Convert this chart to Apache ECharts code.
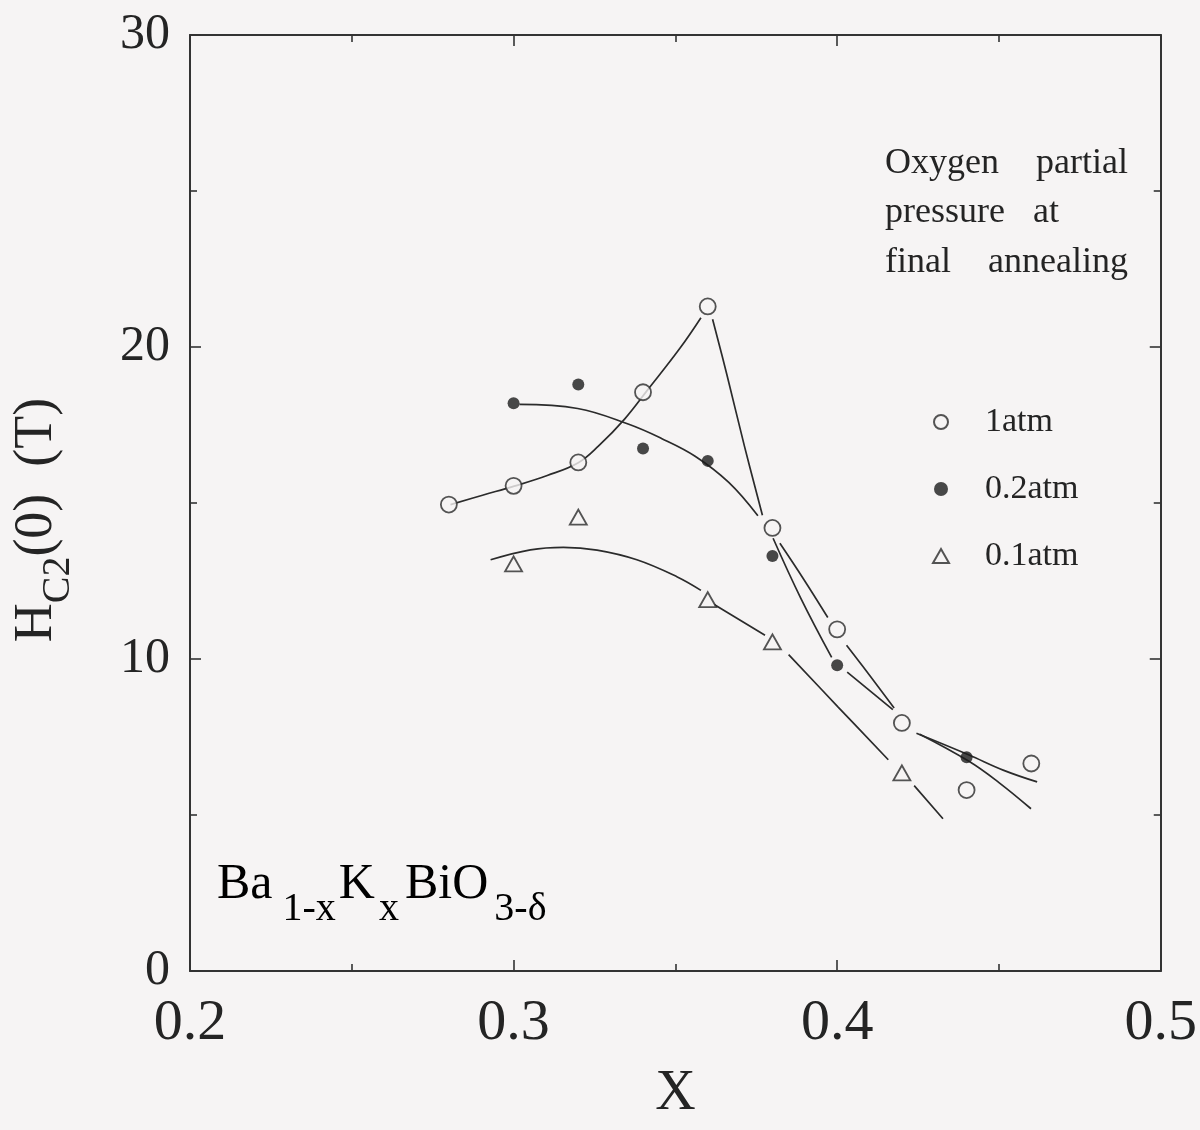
<!DOCTYPE html>
<html>
<head>
<meta charset="utf-8">
<script src="https://cdn.jsdelivr.net/npm/echarts@6/dist/echarts.min.js"></script>
<style>
  html, body { margin: 0; padding: 0; background: #f6f4f4; }
  #chart { width: 1200px; height: 1130px; }
</style>
</head>
<body>
<div id="chart"></div>
<script>
// measured points, Hc2(0) in tesla vs potassium content x
const x1atm = [0.28, 0.30, 0.32, 0.34, 0.36, 0.38, 0.40, 0.42, 0.44, 0.46]
const hc1atm = [14.95, 15.55, 16.3, 18.55, 21.3, 14.2, 10.95, 7.95, 5.8, 6.65]

const x02atm = [0.30, 0.32, 0.34, 0.36, 0.38, 0.40, 0.44]
const hc02atm = [18.2, 18.8, 16.75, 16.35, 13.3, 9.8, 6.85]

const x01atm = [0.30, 0.32, 0.36, 0.38, 0.42]
const hc01atm = [13.05, 14.55, 11.9, 10.55, 6.35]

// guide-to-the-eye curves, null = gap in the drawn line
const fit1atm = [
    [0.2805, 14.95], [0.2904, 15.25], [0.3002, 15.54], [0.3104, 15.88], [0.32, 16.29],
    [0.3262, 16.82], [0.3343, 17.69], [0.3413, 18.61], [0.3514, 19.96], [0.3579, 20.94], null,
    [0.3615, 20.89], [0.366, 19.08], [0.3713, 16.84], [0.3769, 14.61], null,
    [0.3823, 13.71], [0.3897, 12.55], [0.3971, 11.33], null,
    [0.4029, 10.44], [0.4103, 9.44], [0.4176, 8.43], null,
    [0.4245, 7.62], [0.4406, 6.93], [0.4515, 6.43], [0.4618, 6.06]
]
const fit02atm = [
    [0.3018, 18.16], [0.3198, 18.03], [0.3354, 17.53], [0.3457, 17.07], [0.3561, 16.5],
    [0.3665, 15.66], [0.3755, 14.59], null,
    [0.3802, 13.87], [0.3887, 11.96], [0.3983, 10.05], null,
    [0.4031, 9.58], [0.4172, 8.38], null,
    [0.4255, 7.59], [0.4406, 6.73], [0.45, 6.04], [0.4599, 5.2]
]
const fit01atm = [
    [0.2929, 13.18], [0.3052, 13.5], [0.3154, 13.58], [0.3258, 13.49], [0.3381, 13.18],
    [0.3506, 12.63], [0.3579, 12.2], null,
    [0.362, 11.75], [0.3777, 10.76], null,
    [0.385, 10.14], [0.4003, 8.46], [0.4158, 6.77], null,
    [0.4238, 5.94], [0.4327, 4.88]
]

const legendNames = ['1atm', '0.2atm', '0.1atm']

const SERIF = "'Liberation Serif', 'Times New Roman', serif"
const INK = '#242424'
const PAPER = '#f6f4f4'

const pairs = (xs, ys) => xs.map((x, i) => [x, ys[i]])
const withGaps = pts => pts.map(p => p === null ? ['-', '-'] : p)

const chart = echarts.init(document.getElementById('chart'), null, { renderer: 'canvas' })

const frameAxis = {
    type: 'value',
    axisLine: { show: true, onZero: false, lineStyle: { color: '#333', width: 2 } },
    axisTick: { show: true, inside: true, length: 11, lineStyle: { color: '#333', width: 1.6 } },
    minorTick: { show: true, splitNumber: 2, length: 7, lineStyle: { color: '#333', width: 1.6 } },
    splitLine: { show: false },
    minorSplitLine: { show: false }
}

const fitLine = (pts) => ({
    type: 'line',
    data: withGaps(pts),
    smooth: 0.4,
    symbol: 'none',
    silent: true,
    connectNulls: false,
    z: 1,
    lineStyle: { color: '#2b2b2b', width: 1.7 }
})

const mainTok = { fontFamily: SERIF, fontSize: 50, lineHeight: 50, color: INK, verticalAlign: 'top' }
const subTok = (left, right) => ({
    fontFamily: SERIF, fontSize: 40, lineHeight: 40, color: INK, verticalAlign: 'top',
    padding: [29, right, 0, left]
})

chart.setOption({
    backgroundColor: PAPER,
    animation: false,
    grid: { left: 190, right: 38, top: 35, bottom: 159 },
    xAxis: [
        {
            ...frameAxis,
            position: 'bottom',
            min: 0.2, max: 0.5, interval: 0.1,
            name: 'X',
            nameLocation: 'middle',
            nameGap: 95,
            nameTextStyle: { fontFamily: SERIF, fontSize: 56, color: INK },
            axisLabel: {
                color: INK, fontFamily: SERIF, fontSize: 58, margin: 24,
                formatter: v => v.toFixed(1)
            }
        },
        {
            ...frameAxis,
            position: 'top',
            min: 0.2, max: 0.5, interval: 0.1,
            axisLabel: { show: false }
        }
    ],
    yAxis: [
        {
            ...frameAxis,
            position: 'left',
            min: 0, max: 30, interval: 10,
            name: '{h|H}{s|C2}{h|(0)  (T)}',
            nameLocation: 'middle',
            nameRotate: 90,
            nameGap: 126,
            nameTextStyle: {
                padding: [0, 34, 0, 0],
                rich: {
                    h: { fontFamily: SERIF, fontSize: 54, lineHeight: 54, color: INK, verticalAlign: 'top' },
                    s: { fontFamily: SERIF, fontSize: 40, lineHeight: 40, color: INK, verticalAlign: 'top', padding: [28, 0, 0, 0] }
                }
            },
            axisLabel: { color: INK, fontFamily: SERIF, fontSize: 50, margin: 20 }
        },
        {
            ...frameAxis,
            position: 'right',
            min: 0, max: 30, interval: 10,
            axisLabel: { show: false }
        }
    ],
    legend: {
        data: legendNames,
        orient: 'vertical',
        left: 927,
        top: 399,
        itemWidth: 16,
        itemHeight: 14,
        itemGap: 31,
        symbolKeepAspect: true,
        textStyle: { fontFamily: SERIF, fontSize: 34, lineHeight: 36, color: INK, padding: [0, 0, 0, 31] }
    },
    graphic: [
        { type: 'text', left: 885, top: 146, style: { text: 'Oxygen', font: '36px ' + SERIF, fill: INK } },
        { type: 'text', right: 72, top: 146, style: { text: 'partial', font: '36px ' + SERIF, fill: INK } },
        { type: 'text', left: 885, top: 195, style: { text: 'pressure', font: '36px ' + SERIF, fill: INK } },
        { type: 'text', left: 1033, top: 195, style: { text: 'at', font: '36px ' + SERIF, fill: INK } },
        { type: 'text', left: 885, top: 245, style: { text: 'final', font: '36px ' + SERIF, fill: INK } },
        { type: 'text', right: 72, top: 245, style: { text: 'annealing', font: '36px ' + SERIF, fill: INK } },
        {
            type: 'text', left: 217, top: 860,
            style: {
                text: '{b|Ba}{s1|1-x}{b|K}{s2|x}{b|BiO}{s3|3-δ}',
                rich: { b: mainTok, s1: subTok(10, 3), s2: subTok(4, 6), s3: subTok(6, 0) }
            }
        }
    ],
    series: [
        fitLine(fit1atm),
        fitLine(fit02atm),
        fitLine(fit01atm),
        {
            name: '1atm',
            type: 'scatter',
            data: pairs(x1atm, hc1atm),
            symbol: 'circle',
            symbolSize: 16,
            z: 3,
            itemStyle: { color: PAPER, borderColor: '#2a2a2a', borderWidth: 1.8 }
        },
        {
            name: '0.2atm',
            type: 'scatter',
            data: pairs(x02atm, hc02atm),
            symbol: 'circle',
            symbolSize: 12,
            z: 3,
            itemStyle: { color: '#1c1c1c', borderColor: '#1c1c1c', borderWidth: 0 }
        },
        {
            name: '0.1atm',
            type: 'scatter',
            data: pairs(x01atm, hc01atm),
            symbol: 'triangle',
            symbolSize: [17, 15],
            z: 3,
            itemStyle: { color: PAPER, borderColor: '#2a2a2a', borderWidth: 1.8 }
        }
    ]
})
</script>
</body>
</html>
